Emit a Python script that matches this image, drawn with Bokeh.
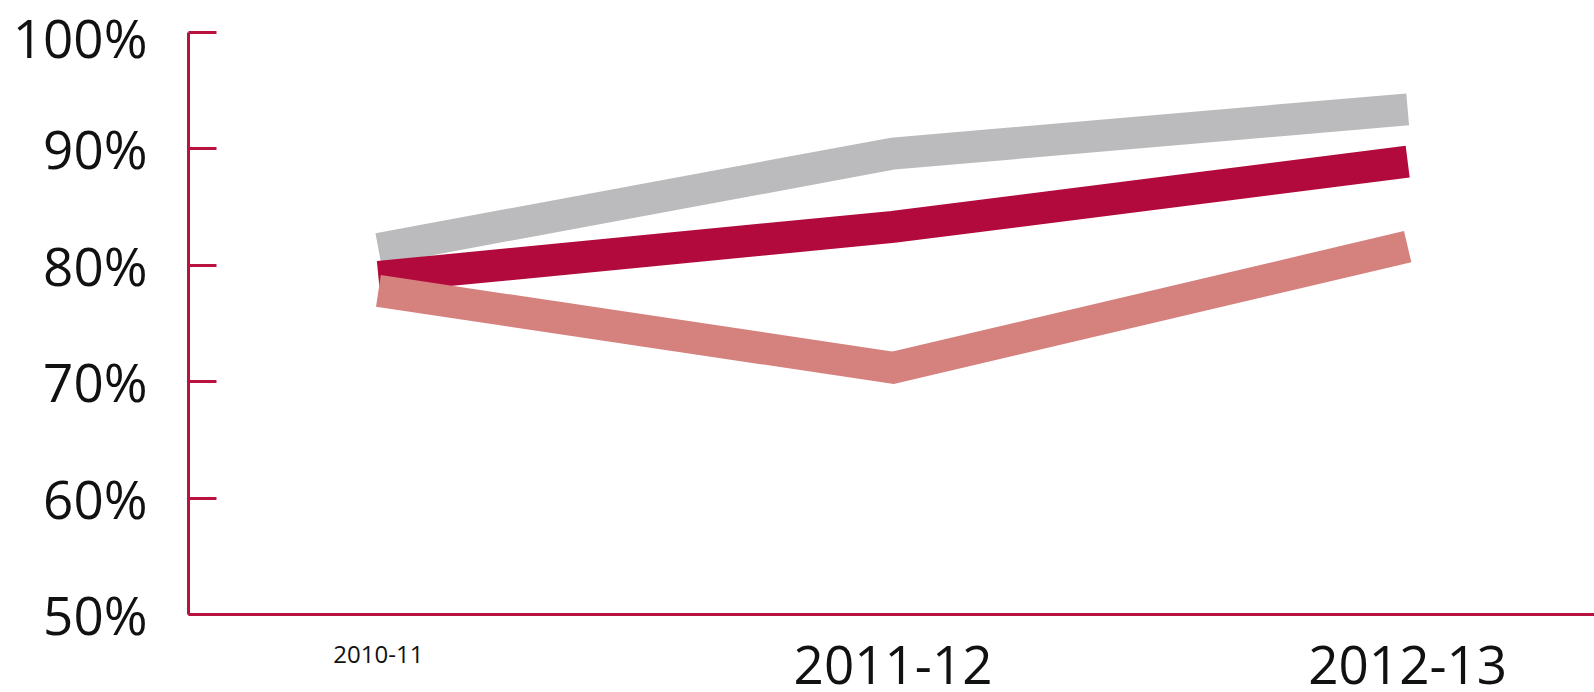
from bokeh.plotting import figure
from bokeh.models import Range1d, FixedTicker, PrintfTickFormatter, Span, ColumnDataSource
from bokeh.core.properties import value
from bokeh.embed import file_html
from bokeh.resources import INLINE

# ---- data ----
categories = ["2010-11", "2011-12", "2012-13"]
series_gray = [81.4, 89.6, 93.4]
series_crimson = [79.0, 83.3, 88.9]
series_pink = [77.8, 71.2, 81.6]
y_ticks = [50, 60, 70, 80, 90, 100]
y_min, y_max = 50, 100

# ---- styles ----
CRIMSON = "#B20A3C"
AXIS_COLOR = "#B8123F"
GRAY = "#BBBBBD"
PINK = "#D5817D"
TEXT = "#111111"
FONT = "Open Sans"
label_sizes = ["24px", "53px", "53px"]
label_y = [47.32, 47.3, 47.3]     # vertical placement just below the x axis line
Y_VIEW_START = 43.3               # frame extends below 50% to host the category labels

xs = list(range(len(categories)))

p = figure(width=1594, height=692, output_backend="svg", toolbar_location=None,
           x_range=Range1d(-0.369, 2.363), y_range=Range1d(Y_VIEW_START, y_max),
           min_border_left=188, min_border_right=0, min_border_top=32,
           min_border_bottom=0)
p.outline_line_color = None
p.background_fill_color = "white"
p.border_fill_color = "white"
p.xgrid.visible = False
p.ygrid.visible = False
p.xaxis.visible = False

for ys, col in [(series_gray, GRAY), (series_crimson, CRIMSON), (series_pink, PINK)]:
    p.line(xs, ys, line_color=col, line_width=32, line_cap="butt", line_join="miter")

# y axis
ya = p.yaxis[0]
ya.bounds = (y_min, y_max)
ya.ticker = FixedTicker(ticks=y_ticks)
ya.formatter = PrintfTickFormatter(format="%d%%")
ya.axis_line_color = AXIS_COLOR
ya.axis_line_width = 3
ya.major_tick_line_color = AXIS_COLOR
ya.major_tick_line_width = 3
ya.major_tick_in = 28
ya.major_tick_out = 0
ya.minor_tick_line_color = None
ya.major_label_standoff = 41
ya.major_label_text_font = FONT
ya.major_label_text_font_size = "53px"
ya.major_label_text_color = TEXT

# x axis line at 50%
p.add_layout(Span(location=y_min, dimension="width", line_color=AXIS_COLOR, line_width=3))

# category labels (mixed sizes, as in the original)
src = ColumnDataSource(dict(x=xs, y=label_y, text=categories, size=label_sizes))
p.text(x="x", y="y", text="text", source=src, text_font=value(FONT),
       text_font_size="size", text_align="center", text_baseline="top",
       text_color=TEXT)

open("out.html", "w").write(file_html(p, INLINE))
